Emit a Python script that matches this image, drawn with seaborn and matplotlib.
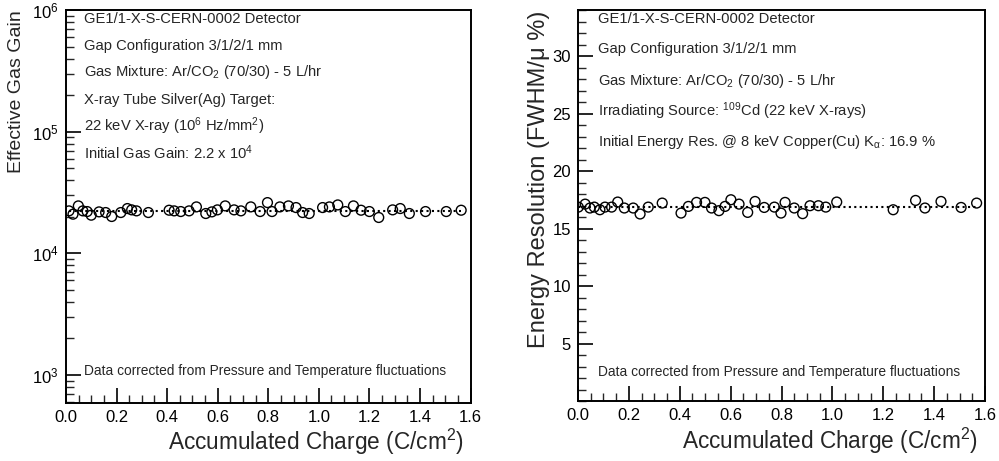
import numpy as np
import pandas as pd
import matplotlib
matplotlib.use("Agg")
import matplotlib.pyplot as plt
import seaborn as sns
from matplotlib.ticker import MultipleLocator, LogLocator, NullFormatter

# ---------------- data ----------------
gain_charge = [0.012, 0.028, 0.049, 0.067, 0.084, 0.100, 0.131, 0.157, 0.181, 0.217,
               0.243, 0.260, 0.279, 0.326, 0.408, 0.428, 0.454, 0.487, 0.516, 0.553,
               0.577, 0.599, 0.630, 0.665, 0.692, 0.731, 0.768, 0.797, 0.815, 0.846,
               0.880, 0.910, 0.936, 0.962, 1.015, 1.042, 1.075, 1.105, 1.137, 1.167,
               1.200, 1.237, 1.292, 1.322, 1.358, 1.422, 1.504, 1.563]
gain_values = [22370, 21010, 24580, 22370, 22090, 20620, 21950, 21680, 20110, 21680,
               23380, 22800, 22370, 21680, 22650, 22370, 22090, 22370, 24120, 21280,
               21950, 22800, 24580, 22800, 22370, 24120, 22090, 26170, 22090, 24120,
               24580, 23820, 21680, 21280, 23820, 24120, 25040, 22090, 24580, 22650,
               22090, 19740, 22800, 23380, 21280, 22090, 22090, 22650]
gain_fit = 22400

res_charge = [0.001, 0.028, 0.047, 0.064, 0.086, 0.106, 0.132, 0.156, 0.182, 0.217,
              0.244, 0.276, 0.331, 0.405, 0.434, 0.466, 0.499, 0.525, 0.554, 0.578,
              0.601, 0.633, 0.667, 0.696, 0.732, 0.772, 0.798, 0.814, 0.850, 0.883,
              0.912, 0.945, 0.974, 1.017, 1.239, 1.327, 1.364, 1.427, 1.506, 1.567]
res_values = [16.87, 17.13, 16.79, 16.87, 16.64, 16.87, 16.87, 17.31, 16.79, 16.79,
              16.27, 16.87, 17.22, 16.35, 16.93, 17.28, 17.28, 16.79, 16.56, 16.93,
              17.51, 17.13, 16.41, 17.36, 16.84, 16.87, 16.35, 17.28, 16.79, 16.30,
              16.99, 16.99, 16.87, 17.31, 16.64, 17.45, 16.79, 17.36, 16.84, 17.22]
res_fit = 16.9

xticks = [0.0, 0.2, 0.4, 0.6, 0.8, 1.0, 1.2, 1.4, 1.6]
res_yticks = [5, 10, 15, 20, 25, 30]

left_text = ["GE1/1-X-S-CERN-0002 Detector",
             "Gap Configuration 3/1/2/1 mm",
             "Gas Mixture: Ar/CO$_2$ (70/30) - 5 L/hr",
             "X-ray Tube Silver(Ag) Target:",
             "22 keV X-ray (10$^6$ Hz/mm$^2$)",
             "Initial Gas Gain: 2.2 x 10$^4$"]
right_text = ["GE1/1-X-S-CERN-0002 Detector",
              "Gap Configuration 3/1/2/1 mm",
              "Gas Mixture: Ar/CO$_2$ (70/30) - 5 L/hr",
              "Irradiating Source: $^{109}$Cd (22 keV X-rays)",
              "Initial Energy Res. @ 8 keV Copper(Cu) K$_\\alpha$: 16.9 %"]
footnote = "Data corrected from Pressure and Temperature fluctuations"
xlabel = "Accumulated Charge (C/cm$^2$)"

# ---------------- style ----------------
sns.set_theme(style="ticks")
plt.rcParams["font.family"] = ["Liberation Sans", "DejaVu Sans"]
plt.rcParams["mathtext.default"] = "regular"
plt.rcParams["axes.linewidth"] = 1.4

fig = plt.figure(figsize=(9.99, 4.61), dpi=100)
axL = fig.add_axes([0.066, 0.126, 0.405, 0.852])
axR = fig.add_axes([0.5786, 0.130, 0.4074, 0.848])

gdf = pd.DataFrame({"charge": gain_charge, "gain": gain_values})
rdf = pd.DataFrame({"charge": res_charge, "res": res_values})
gfit = pd.DataFrame({"charge": [min(gain_charge), max(gain_charge)], "v": [gain_fit, gain_fit]})
rfit = pd.DataFrame({"charge": [min(res_charge), max(res_charge)], "v": [res_fit, res_fit]})

marker_kw = dict(marker="o", s=50, facecolors="none", edgecolor="black", linewidth=1.0, zorder=3)
line_kw = dict(color="black", linestyle=(0, (1, 1.6)), linewidth=1.5)

sns.lineplot(data=gfit, x="charge", y="v", ax=axL, **line_kw)
sns.scatterplot(data=gdf, x="charge", y="gain", ax=axL, **marker_kw)
sns.lineplot(data=rfit, x="charge", y="v", ax=axR, **line_kw)
sns.scatterplot(data=rdf, x="charge", y="res", ax=axR, **marker_kw)

for ax in (axL, axR):
    ax.set_xlim(0, 1.6)
    ax.set_xticks(xticks)
    ax.set_xticklabels([f"{t:.1f}" for t in xticks])
    ax.xaxis.set_minor_locator(MultipleLocator(0.05))
    ax.tick_params(axis="both", which="major", direction="in", length=11, width=1.2,
                   labelsize=12, top=False, right=False, colors="black", pad=5)
    ax.tick_params(axis="both", which="minor", direction="in", length=6, width=1.0,
                   top=False, right=False)
    for sp in ax.spines.values():
        sp.set_visible(True)
        sp.set_color("black")
    ax.set_xlabel(xlabel, fontsize=16.3, loc="right")
    ax.xaxis.set_label_coords(0.983, -0.062)

# left panel axes
axL.set_yscale("log")
axL.set_ylim(590, 1e6)
axL.yaxis.set_major_locator(LogLocator(base=10, numticks=10))
axL.yaxis.set_minor_locator(LogLocator(base=10, subs=np.arange(2, 10), numticks=20))
axL.yaxis.set_minor_formatter(NullFormatter())
axL.set_ylabel("Effective Gas Gain", fontsize=14, loc="top")
axL.yaxis.set_label_coords(-0.1, 1.0)

# right panel axes
axR.set_ylim(0, 34)
axR.set_yticks(res_yticks)
axR.yaxis.set_minor_locator(MultipleLocator(1))
axR.set_ylabel("Energy Resolution (FWHM/μ %)", fontsize=17, loc="top")
axR.yaxis.set_label_coords(-0.068, 1.0)

# annotations
for t, y in zip(left_text, [0.978, 0.909, 0.843, 0.772, 0.705, 0.637]):
    axL.text(0.044, y, t, transform=axL.transAxes, fontsize=10.6, va="center", ha="left")
axL.text(0.044, 0.08, footnote, transform=axL.transAxes, fontsize=9.9, va="center", ha="left")

for t, y in zip(right_text, [0.978, 0.901, 0.819, 0.742, 0.663]):
    axR.text(0.049, y, t, transform=axR.transAxes, fontsize=10.6, va="center", ha="left")
axR.text(0.049, 0.074, footnote, transform=axR.transAxes, fontsize=9.9, va="center", ha="left")

fig.savefig("out.png", dpi=100)
